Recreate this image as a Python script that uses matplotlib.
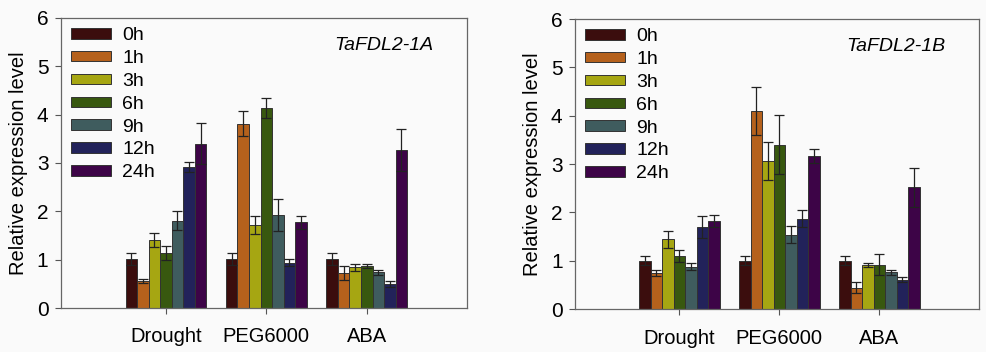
import matplotlib.pyplot as plt
import numpy as np

plt.rcParams['font.family'] = ['Liberation Sans', 'DejaVu Sans']

treatments = ['Drought', 'PEG6000', 'ABA']
times = ['0h', '1h', '3h', '6h', '9h', '12h', '24h']
colors = ['#3b0d0d', '#b5611c', '#a6a612', '#38580f', '#3f5c5e', '#22225a', '#3d0447']

# TaFDL2-1A: rows = time points, columns = treatments
vals_1a = [[1.01, 1.01, 1.01],
           [0.55, 3.81, 0.72],
           [1.41, 1.72, 0.84],
           [1.14, 4.14, 0.86],
           [1.81, 1.93, 0.74],
           [2.91, 0.94, 0.50],
           [3.40, 1.77, 3.27]]
err_1a = [[0.13, 0.13, 0.13],
          [0.04, 0.26, 0.14],
          [0.15, 0.18, 0.07],
          [0.15, 0.20, 0.04],
          [0.20, 0.33, 0.05],
          [0.10, 0.07, 0.06],
          [0.42, 0.14, 0.44]]

# TaFDL2-1B
vals_1b = [[1.00, 1.00, 1.00],
           [0.74, 4.10, 0.44],
           [1.44, 3.06, 0.92],
           [1.10, 3.40, 0.92],
           [0.88, 1.54, 0.76],
           [1.70, 1.87, 0.61],
           [1.82, 3.17, 2.52]]
err_1b = [[0.09, 0.09, 0.09],
          [0.06, 0.50, 0.11],
          [0.18, 0.40, 0.04],
          [0.12, 0.61, 0.22],
          [0.08, 0.17, 0.05],
          [0.23, 0.18, 0.05],
          [0.12, 0.14, 0.40]]

fig = plt.figure(figsize=(9.87, 3.52), dpi=100, facecolor='#fafafa')
ax1 = fig.add_axes([0.0618, 0.125, 0.411, 0.824])
ax2 = fig.add_axes([0.5826, 0.122, 0.409, 0.824])

x = np.arange(1, len(treatments) + 1)
width = 0.115


def draw_panel(ax, vals, errs, gene):
    ax.set_facecolor('#fafafa')
    for i, t in enumerate(times):
        pos = x + (i - 3) * width
        ax.bar(pos, vals[i], width, color=colors[i], edgecolor='#333333',
               linewidth=0.7, label=t)
        ax.errorbar(pos, vals[i], yerr=errs[i], fmt='none', ecolor='#222222',
                    elinewidth=0.9, capsize=3.5, capthick=0.9)
    ax.set_xlim(-0.045, 3.995)
    ax.set_ylim(0, 6)
    ax.set_yticks(range(0, 7))
    ax.set_xticks(x)
    ax.set_xticklabels(treatments, fontsize=14.5)
    ax.tick_params(axis='y', labelsize=15, direction='out', length=4,
                   color='#555555', pad=5)
    ax.tick_params(axis='x', direction='out', length=4, color='#555555', pad=10)
    for s in ax.spines.values():
        s.set_color('#666666')
        s.set_linewidth(0.9)
    ax.set_ylabel('Relative expression level', fontsize=14.5, labelpad=6)
    ax.text(0.795, 0.905, gene, transform=ax.transAxes, fontsize=14,
            style='italic', ha='center', va='center')
    ax.legend(loc='upper left', bbox_to_anchor=(-0.01, 1.015), frameon=False,
              fontsize=14, handlelength=2.1, handleheight=0.45,
              labelspacing=0.3, handletextpad=0.55, borderaxespad=0.3)


draw_panel(ax1, vals_1a, err_1a, 'TaFDL2-1A')
draw_panel(ax2, vals_1b, err_1b, 'TaFDL2-1B')

fig.savefig('out.png', dpi=100, facecolor=fig.get_facecolor())
